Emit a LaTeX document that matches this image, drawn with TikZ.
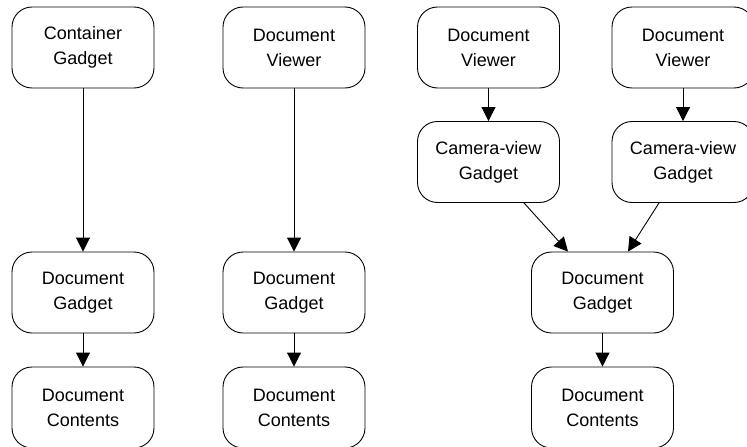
\documentclass[tikz,border=0pt]{standalone}
\usepackage{fontspec}
\setmainfont{Liberation Sans}
\usetikzlibrary{arrows.meta}
\tikzset{
  box/.style={draw, line width=0.9pt, rounded corners=20pt, minimum width=142pt,
    minimum height=81pt, align=center, inner sep=0pt,
    font=\fontsize{18}{25}\selectfont},
  link/.style={draw, line width=0.9pt, -{Triangle[length=14pt,width=14pt]}}
}
\begin{document}
\begin{tikzpicture}[x=1pt,y=-1pt]
\useasboundingbox (0,0) rectangle (747,447);
\begin{scope}
\clip (0,0) rectangle (747,447);
% left chain
\node[box] (cg)  at (83,47.5)  {Container\\Gadget};
\node[box] (dg1) at (83,292.5) {Document\\Gadget};
\node[box] (dc1) at (83,407.5) {Document\\Contents};
% middle chain
\node[box] (dv2) at (294,47.5)  {Document\\Viewer};
\node[box] (dg2) at (294,292.5) {Document\\Gadget};
\node[box] (dc2) at (294,407.5) {Document\\Contents};
% two viewers sharing one gadget
\node[box] (dvl) at (488.5,47.5) {Document\\Viewer};
\node[box] (cvl) at (488.5,162)  {Camera-view\\Gadget};
\node[box] (dvr) at (683,47.5)   {Document\\Viewer};
\node[box] (cvr) at (683,162)    {Camera-view\\Gadget};
\node[box] (dg3) at (602.5,292.5) {Document\\Gadget};
\node[box] (dc3) at (602.5,407.5) {Document\\Contents};
\end{scope}
\draw[link] (cg) -- (dg1);
\draw[link] (dg1) -- (dc1);
\draw[link] (dv2) -- (dg2);
\draw[link] (dg2) -- (dc2);
\draw[link] (dvl) -- (cvl);
\draw[link] (dvr) -- (cvr);
\draw[link] ([xshift=35.5pt]cvl.south) -- ([xshift=-34.5pt]dg3.north);
\draw[link] ([xshift=-24pt]cvr.south) -- ([xshift=25.5pt]dg3.north);
\draw[link] (dg3) -- (dc3);
\end{tikzpicture}
\end{document}
